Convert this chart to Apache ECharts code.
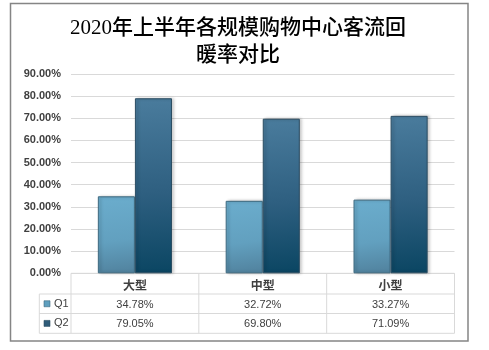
<!DOCTYPE html>
<html>
<head>
<meta charset="utf-8">
<script src="https://cdn.jsdelivr.net/npm/echarts@6/dist/echarts.min.js"></script>
<style>
  html, body { margin: 0; padding: 0; background: #fff; }
  #chart { width: 489px; height: 350px; }
</style>
</head>
<body>
<div id="chart"></div>
<script>
// Passenger-flow recovery rate by mall size, H1 2020 (percent)
const categories = ['大型', '中型', '小型'];
const seriesNames = ['Q1', 'Q2'];
const q1Values = [34.78, 32.72, 33.27];
const q2Values = [79.05, 69.80, 71.09];
const titleText = '2020年上半年各规模购物中心客流回\n暖率对比';

const pct = v => v.toFixed(2) + '%';

// layout
const W = 489, H = 350;
const plotLeft = 71, plotRight = 454.5, plotTop = 74, plotBottom = 273.3;
const rowH = [20.7, 19.5, 19.8];          // header, Q1, Q2 row heights
const tableLeft = 39.3;
const lineColor = '#d9d9d9';
const textColor = '#404040';

const rowY = [plotBottom];
rowH.forEach((h, i) => rowY.push(rowY[i] + h));

const chart = echarts.init(document.getElementById('chart'), null, { renderer: 'canvas' });

const q1Color = new echarts.graphic.LinearGradient(0, 0, 0.25, 1, [
  { offset: 0, color: '#6badcd' },
  { offset: 0.6, color: '#62a0bf' },
  { offset: 1, color: '#5284a0' }
]);
const q2Color = new echarts.graphic.LinearGradient(0, 0, 0.3, 1, [
  { offset: 0, color: '#4a7c9d' },
  { offset: 0.55, color: '#2e5f80' },
  { offset: 1, color: '#0b4663' }
]);
const colors = [q1Color, q2Color];
const keyColors = ['#5f9fbe', '#2f5c79'];
const borders = ['#3e6a80', '#2b4d63'];

// table grid lines
const tableLines = [];
const colW = (plotRight - plotLeft) / categories.length;
for (let i = 0; i <= categories.length; i++) {
  const x = plotLeft + colW * i;
  tableLines.push({ x1: x, y1: rowY[0], x2: x, y2: rowY[3] });
}
tableLines.push({ x1: tableLeft, y1: rowY[1], x2: tableLeft, y2: rowY[3] });
tableLines.push({ x1: plotLeft, y1: rowY[0], x2: plotRight, y2: rowY[0] });
for (let r = 1; r <= 3; r++) {
  tableLines.push({ x1: tableLeft, y1: rowY[r], x2: plotRight, y2: rowY[r] });
}

// row headers of the data table: colour key + series name
const legendCells = [];
seriesNames.forEach((name, i) => {
  const cy = rowY[i + 1] + rowH[i + 1] / 2;
  legendCells.push({
    type: 'rect',
    shape: { x: 44, y: cy - 3, width: 6, height: 6 },
    style: { fill: keyColors[i], stroke: borders[i], lineWidth: 0.6 },
    silent: true
  });
  legendCells.push({
    type: 'text',
    x: 54, y: cy,
    style: {
      text: name,
      verticalAlign: 'middle',
      font: '11px "Liberation Sans", Arial, sans-serif',
      fill: textColor
    },
    silent: true
  });
});

const graphics = [
  {
    type: 'rect',
    shape: { x: 10.5, y: 3.5, width: 457.5, height: 337.5 },
    style: { fill: 'none', stroke: '#858585', lineWidth: 1.5 },
    silent: true
  },
  {
    type: 'text',
    x: 238, y: 15,
    style: {
      text: titleText,
      align: 'center',
      verticalAlign: 'top',
      font: '500 21px "Liberation Serif", "Noto Sans CJK SC", serif',
      lineHeight: 27,
      fill: '#000'
    },
    silent: true
  }
].concat(tableLines.map(l => ({
  type: 'line',
  shape: { x1: l.x1, y1: l.y1, x2: l.x2, y2: l.y2 },
  style: { stroke: lineColor, lineWidth: 1 },
  silent: true
}))).concat(legendCells);

function valueAxis(values, center) {
  return {
    type: 'category',
    gridIndex: 0,
    position: 'bottom',
    data: values.map(pct),
    axisLine: { show: false },
    axisTick: { show: false },
    axisLabel: {
      margin: center - plotBottom + 1,
      verticalAlign: 'middle',
      fontSize: 11,
      fontFamily: '"Liberation Sans", Arial, sans-serif',
      color: textColor,
      interval: 0
    }
  };
}

const option = {
  backgroundColor: '#fff',
  animation: false,
  grid: {
    left: plotLeft,
    right: W - plotRight,
    top: plotTop,
    bottom: H - plotBottom,
    containLabel: false
  },
  xAxis: [
    {
      type: 'category',
      data: categories,
      axisLine: { show: false },
      axisTick: { show: false },
      axisLabel: {
        margin: rowH[0] / 2 + 1.5,
        verticalAlign: 'middle',
        fontSize: 12,
        fontWeight: 'bold',
        fontFamily: '"Noto Sans CJK SC", sans-serif',
        color: textColor,
        interval: 0
      }
    },
    valueAxis(q1Values, rowY[1] + rowH[1] / 2),
    valueAxis(q2Values, rowY[2] + rowH[2] / 2)
  ],
  yAxis: {
    type: 'value',
    min: 0,
    max: 90,
    interval: 10,
    axisLine: { show: false },
    axisTick: { show: false },
    splitLine: { lineStyle: { color: lineColor, width: 1 } },
    axisLabel: {
      margin: 10,
      fontSize: 11,
      fontWeight: 'bold',
      fontFamily: '"Liberation Sans", Arial, sans-serif',
      color: textColor,
      formatter: v => pct(v)
    }
  },
  series: [q1Values, q2Values].map((vals, i) => ({
    name: seriesNames[i],
    type: 'bar',
    data: vals,
    barGap: '0%',
    barCategoryGap: '42%',
    itemStyle: {
      color: colors[i],
      borderColor: borders[i],
      borderWidth: 1,
      shadowColor: 'rgba(0,0,0,0.25)',
      shadowBlur: 3,
      shadowOffsetX: 2,
      shadowOffsetY: 0
    }
  })),
  graphic: graphics
};

chart.setOption(option);
</script>
</body>
</html>
